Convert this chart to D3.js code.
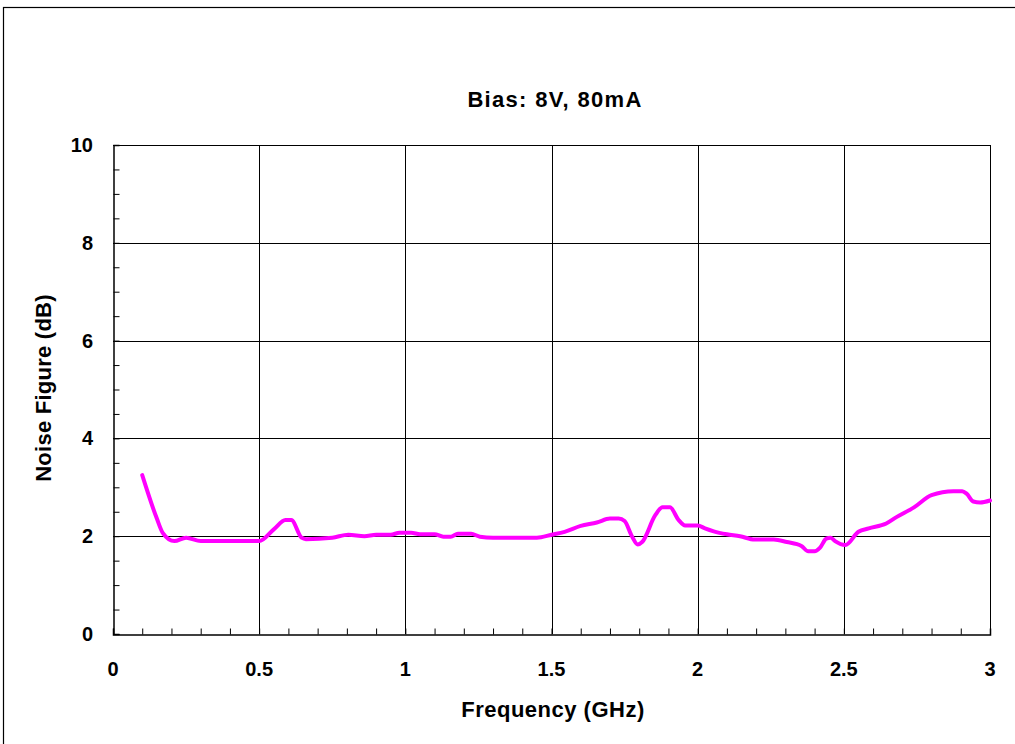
<!DOCTYPE html>
<html>
<head>
<meta charset="utf-8">
<script src="https://cdn.jsdelivr.net/npm/d3@7"></script>
<style>
  body { margin: 0; background: #fff; }
  svg text { font-family: "Liberation Sans", Arial, sans-serif; font-weight: bold; fill: #000; }
</style>
</head>
<body>
<div class="nf-chart"></div>
<script>
// noise figure trace
var freq = [0.10, 0.15, 0.17, 0.21, 0.25, 0.30, 0.40, 0.50, 0.55, 0.59, 0.61, 0.645, 0.66, 0.75, 0.805,
            0.86, 0.90, 0.95, 0.98, 1.02, 1.05, 1.10, 1.13, 1.155, 1.18, 1.225, 1.255, 1.30, 1.45, 1.50,
            1.545, 1.60, 1.655, 1.70, 1.73, 1.75, 1.775, 1.795, 1.81, 1.855, 1.88, 1.905, 1.935, 1.957,
            2.00, 2.025, 2.055, 2.10, 2.145, 2.195, 2.26, 2.305, 2.355, 2.378, 2.40, 2.418, 2.44, 2.455,
            2.47, 2.505, 2.55, 2.585, 2.645, 2.68, 2.74, 2.80, 2.875, 2.905, 2.92, 2.943, 2.966, 3.00];
var nf   = [3.25, 2.36, 2.07, 1.90, 1.97, 1.90, 1.90, 1.90, 2.14, 2.33, 2.33, 1.97, 1.94, 1.97, 2.03,
            2.00, 2.03, 2.03, 2.07, 2.07, 2.04, 2.04, 1.99, 1.99, 2.05, 2.05, 1.99, 1.97, 1.97, 2.03,
            2.09, 2.21, 2.28, 2.36, 2.36, 2.31, 2.00, 1.83, 1.88, 2.43, 2.59, 2.59, 2.33, 2.22,
            2.22, 2.16, 2.10, 2.04, 2.00, 1.93, 1.93, 1.88, 1.80, 1.69, 1.69, 1.76, 1.95, 1.97,
            1.90, 1.82, 2.09, 2.16, 2.26, 2.39, 2.59, 2.84, 2.92, 2.92, 2.87, 2.71, 2.69, 2.73];

var xTicks = [0, 0.5, 1, 1.5, 2, 2.5, 3];
var yTicks = [0, 2, 4, 6, 8, 10];
var chartTitle = "Bias: 8V, 80mA";
var xTitle = "Frequency (GHz)";
var yTitle = "Noise Figure (dB)";

function NoiseChart() {
    var W = 1015, H = 744;
    var left = 113, right = 990, top = 145, bottom = 634;

    var x_scale = d3.scaleLinear().domain([0, 3]).range([left, right]);
    var y_scale = d3.scaleLinear().domain([0, 10]).range([bottom, top]);

    var svg = d3.select(".nf-chart").append("svg")
        .attr("width", W)
        .attr("height", H);

    // outer chart frame
    svg.append("rect")
        .attr("x", 3.5).attr("y", 7.5)
        .attr("width", W).attr("height", H)
        .attr("fill", "none").attr("stroke", "#000").attr("stroke-width", 1.2);

    // grid
    var grid = svg.append("g");
    grid.selectAll(".vg").data(xTicks.slice(1))
        .enter().append("line")
        .attr("x1", function(d) { return Math.round(x_scale(d)) + 0.5; })
        .attr("x2", function(d) { return Math.round(x_scale(d)) + 0.5; })
        .attr("y1", top).attr("y2", bottom)
        .attr("stroke", "#000").attr("stroke-width", 1);
    grid.selectAll(".hg").data(yTicks.slice(1))
        .enter().append("line")
        .attr("y1", function(d) { return Math.round(y_scale(d)) + 0.5; })
        .attr("y2", function(d) { return Math.round(y_scale(d)) + 0.5; })
        .attr("x1", left).attr("x2", right)
        .attr("stroke", "#000").attr("stroke-width", 1);

    // axes with inward ticks
    var xAxis = d3.axisBottom(x_scale).tickValues(d3.range(0, 3.001, 0.1))
        .tickSize(-6).tickFormat("");
    var yAxis = d3.axisLeft(y_scale).tickValues(d3.range(0, 10.001, 0.5))
        .tickSize(-6).tickFormat("");

    var gx = svg.append("g").attr("transform", "translate(0," + (bottom + 0.5) + ")").call(xAxis);
    var gy = svg.append("g").attr("transform", "translate(" + (left + 0.5) + ",0)").call(yAxis);
    [gx, gy].forEach(function(g) {
        g.select(".domain").attr("stroke", "#000").attr("stroke-width", 1.5);
        g.selectAll(".tick line").attr("stroke", "#000");
    });

    // tick labels
    svg.selectAll(".xl").data(xTicks).enter().append("text")
        .attr("x", function(d) { return x_scale(d); })
        .attr("y", bottom + 42)
        .attr("text-anchor", "middle")
        .style("font-size", "20px")
        .text(function(d) { return d; });
    svg.selectAll(".yl").data(yTicks).enter().append("text")
        .attr("x", left - 20)
        .attr("y", function(d) { return y_scale(d) + 7; })
        .attr("text-anchor", "end")
        .style("font-size", "20px")
        .text(function(d) { return d; });

    // trace
    var data_xy = freq.map(function(f, i) { return {x: f, y: nf[i]}; });
    var line = d3.line()
        .x(function(d) { return x_scale(d.x); })
        .y(function(d) { return y_scale(d.y); })
        .curve(d3.curveMonotoneX);
    svg.append("path")
        .attr("d", line(data_xy))
        .attr("fill", "none")
        .attr("stroke", "#ff00ff")
        .attr("stroke-width", 4)
        .attr("stroke-linejoin", "round")
        .attr("stroke-linecap", "round");

    // titles
    svg.append("text")
        .attr("x", 555).attr("y", 107)
        .attr("text-anchor", "middle")
        .style("font-size", "22px")
        .style("letter-spacing", "1.3px")
        .text(chartTitle);
    svg.append("text")
        .attr("x", 553).attr("y", 717)
        .attr("text-anchor", "middle")
        .style("font-size", "22px")
        .style("letter-spacing", "0.5px")
        .text(xTitle);
    svg.append("text")
        .attr("transform", "translate(51,388) rotate(-90)")
        .attr("text-anchor", "middle")
        .style("font-size", "22px")
        .style("letter-spacing", "0.25px")
        .text(yTitle);
}

NoiseChart();
</script>
</body>
</html>
